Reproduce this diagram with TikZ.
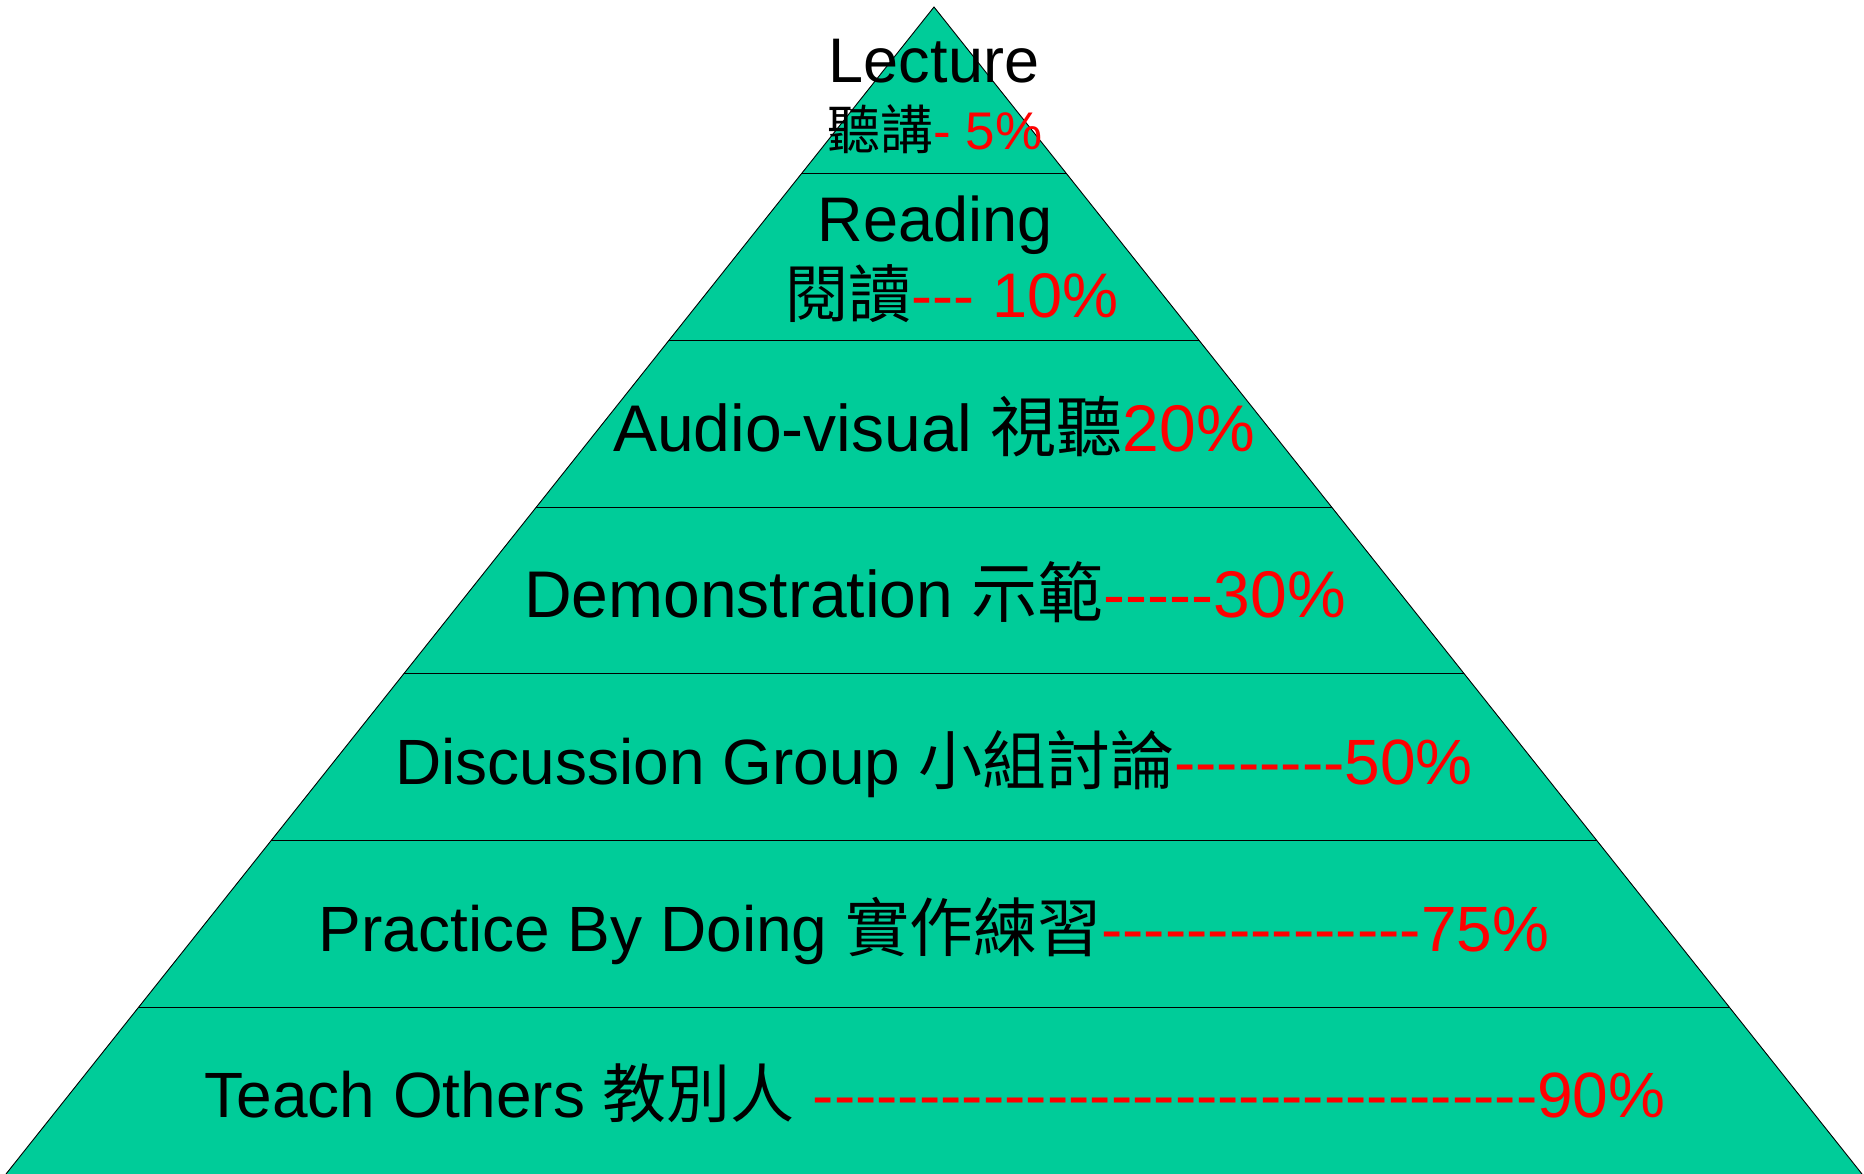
\documentclass[tikz,border=0pt]{standalone}
\usepackage{fontspec}
\setmainfont{Liberation Sans}[Ligatures=TeXOff]
\newfontfamily\cjk{Noto Sans CJK TC}
\usetikzlibrary{calc}
\definecolor{pyrgreen}{HTML}{00CC99}
\newcommand\zh[1]{{\cjk #1}}
\newcommand\fsz[1]{\fontsize{#1}{#1}\selectfont}
\newcommand\rd[1]{\textcolor{red}{#1}}
\begin{document}
\begin{tikzpicture}[x=1pt,y=-1pt,
  lbl/.style={inner sep=0pt, anchor=base, text=black},
  band/.style={line width=1.2pt, draw=black},
  edge/.style={line width=0.9pt, draw=black, line join=miter}]
\useasboundingbox (0,0) rectangle (1864,1174);
\coordinate (apex) at (934,7);
\coordinate (bl) at (6,1174);
\coordinate (br) at (1862,1174);
\fill[pyrgreen] (apex) -- (br) -- (bl) -- cycle;
\foreach \k in {1,...,6} {
  \draw[band] ($(apex)!{\k/7}!(bl)$) -- ($(apex)!{\k/7}!(br)$);
}
\draw[edge] (bl) -- (apex) -- (br);
\node[lbl] (lec) at (934,83) {\fsz{63}Lecture};
\node[lbl] (lecp) at (935,150) {\fsz{53}\zh{聽講}\rd{- 5\%}};
\node[lbl] (rea) at (935,242) {\fsz{63}Reading};
\node[lbl] (reap) at (952,318) {\fsz{63}\zh{閱讀}\rd{--- 10\%}};
\node[lbl] (aud) at (934,451) {\fsz{66}Audio-visual \zh{視聽}\rd{20\%}};
\node[lbl] (dem) at (935,617) {\fsz{66}Demonstration \zh{示範}\rd{-----30\%}};
\node[lbl] (dis) at (934,784) {\fsz{64}Discussion Group \zh{小組討論}\rd{--------50\%}};
\node[lbl] (pra) at (934,951) {\fsz{64}Practice By Doing \zh{實作練習}\rd{---------------75\%}};
\node[lbl] (tea) at (935,1117) {\fsz{64}Teach Others \zh{教別人} \rd{----------------------------------90\%}};
\end{tikzpicture}
\end{document}
